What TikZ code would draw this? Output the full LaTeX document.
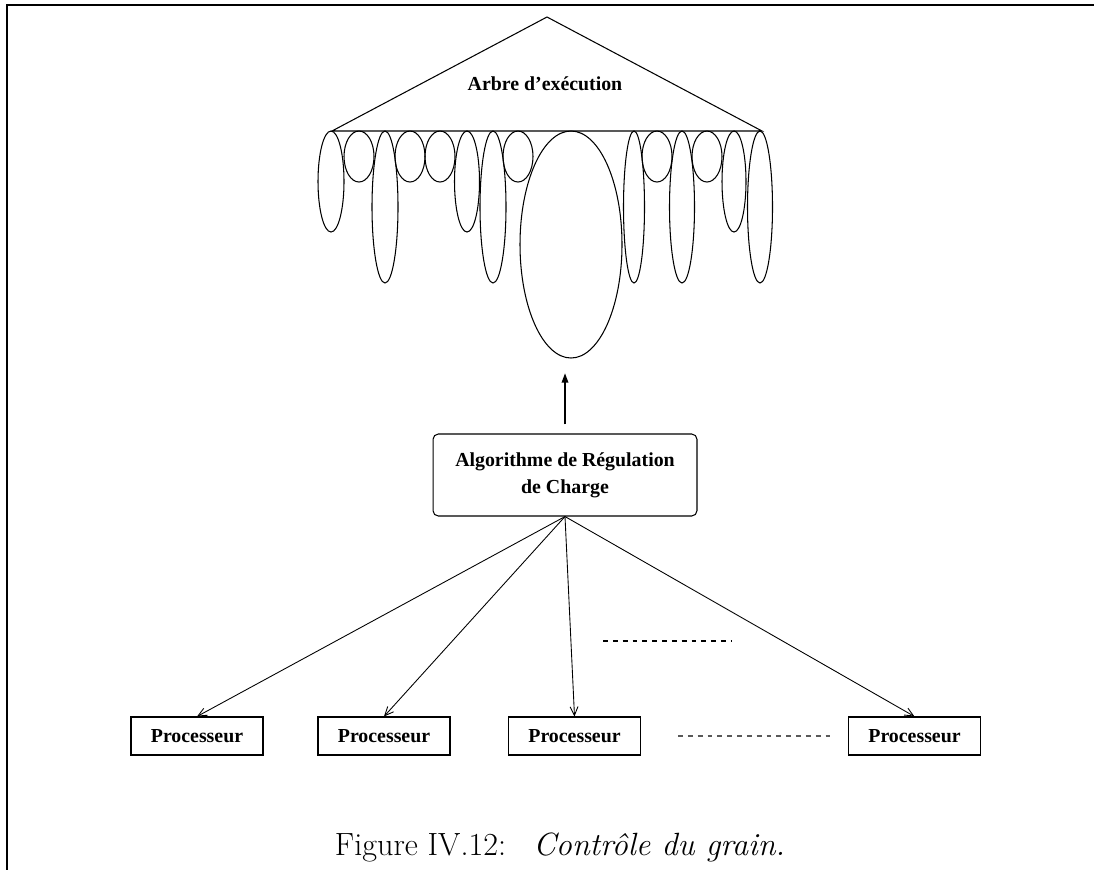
\documentclass[tikz,border=0pt]{standalone}
\usepackage{fontspec}
\usetikzlibrary{arrows.meta,positioning}
\newfontfamily\tms{Liberation Serif}
\newcommand\lbl[1]{{\tms\bfseries #1}}

\begin{document}
\begin{tikzpicture}[x=0.02cm,y=-0.02cm,line width=0.6pt]
\tikzset{
  proc/.style={draw,rectangle,minimum width=2.64cm,minimum height=0.76cm,
    inner sep=0pt,font=\fontsize{11.3}{13}\selectfont},
  algo/.style={draw,rounded corners=3pt,minimum width=5.28cm,minimum height=1.64cm,
    align=center,font=\fontsize{11.3}{15.3}\selectfont},
  dispatch/.style={-{Straight Barb[length=5pt,width=4.5pt]},line width=0.5pt},
  gofor/.style={-{Triangle[length=5.5pt,width=3.6pt]},line width=1.2pt},
  etc/.style={dash pattern=on 2.8pt off 2.8pt,line width=0.6pt}
}
\useasboundingbox (0,0) rectangle (1094,870);
\draw[line width=1pt] (1094,5) -- (7,5) -- (7,870);

% arbre
\coordinate (L) at (332,131); \coordinate (T) at (547,17); \coordinate (R) at (762,131);
\draw (L) -- (T) -- (R) -- cycle;
\node at (545,84) {\fontsize{11.3}{13}\selectfont\lbl{Arbre d’exécution}};
\foreach \cx/\rx/\ry in {331/13/50.5,359/15/25.5,385/13/76,410/15/25.5,440/15/25.5,
  467/12.5/50.5,493/13/76,518/15/25.5,571/51/113.5,634/10.5/76,657/15/25.5,
  682/12.5/76,707/15/25.5,734/12/50.5,760/12.5/76}
  \draw (\cx,131+\ry) ellipse ({\rx} and {\ry});
\coordinate (grain) at (565,373);

\node[algo] (algo) at (565,475) {\lbl{Algorithme de Régulation}\\\lbl{de Charge}};
\draw[gofor] ([yshift=0.18cm]algo.north) -- (grain);

\node[proc] (p1) at (197,736) {\lbl{Processeur}};
\node[proc] (p2) at (384,736) {\lbl{Processeur}};
\node[proc] (p3) at (574.5,736) {\lbl{Processeur}};
\node[proc] (p4) at (914.5,736) {\lbl{Processeur}};
\foreach \p in {p1,p2,p3,p4}\draw[dispatch] (algo.south) -- (\p.north);

\draw[etc] (603,641) -- (732,641);
\draw[etc,black!65] (678,736) -- (830,736);

\node (cap) at (560,847) {\fontsize{18.3}{21}\selectfont Figure IV.12:\hspace{0.85em}\textit{Contrôle du grain.}};
\end{tikzpicture}
\end{document}
